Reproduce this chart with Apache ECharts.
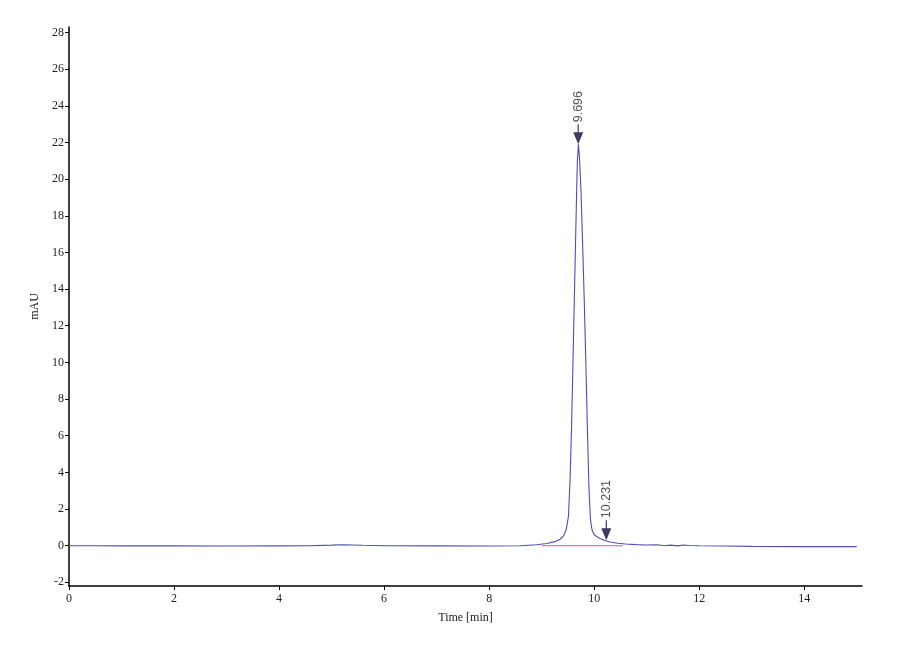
<!DOCTYPE html>
<html>
<head>
<meta charset="utf-8">
<script src="https://cdn.jsdelivr.net/npm/echarts@6/dist/echarts.min.js"></script>
<style>
  html, body { margin: 0; padding: 0; background: #fff; }
  #main { width: 900px; height: 660px; }
</style>
</head>
<body>
<div id="main"></div>
<script>
// chromatogram trace, [time (min), mAU]
var trace = [
  [0, 0], [0.5, 0], [1, -0.01], [2, -0.01], [3, -0.02], [4, -0.01], [4.6, 0],
  [5.0, 0.03], [5.2, 0.05], [5.6, 0.02], [6, 0], [7, -0.01], [8, -0.02],
  [8.6, 0], [8.9, 0.05], [9.1, 0.12], [9.25, 0.22], [9.35, 0.35], [9.42, 0.55],
  [9.47, 0.9], [9.51, 1.6], [9.54, 3.5], [9.57, 6.5], [9.6, 10.5], [9.63, 14.5],
  [9.66, 18.5], [9.68, 21], [9.7, 21.9], [9.72, 21.2], [9.75, 19.3], [9.78, 16.5],
  [9.81, 13.5], [9.84, 10.2], [9.87, 6.5], [9.9, 3.2], [9.93, 1.4], [9.96, 0.85],
  [10.0, 0.6], [10.1, 0.4], [10.2, 0.28], [10.3, 0.2], [10.45, 0.13], [10.6, 0.09],
  [10.8, 0.06], [11.0, 0.04], [11.2, 0.05], [11.35, 0.0], [11.45, 0.03],
  [11.6, -0.01], [11.7, 0.04], [11.8, 0.01], [12, 0], [12.5, -0.02], [13, -0.04],
  [14, -0.05], [15, -0.05]
];

// integration baseline under the peak
var baseline = [[9.0, 0], [10.55, 0]];

// peak marks: retention time and height
var peakTimes = [9.696, 10.231];
var peakHeights = [21.9, 0.3];

var xTicks = [0, 2, 4, 6, 8, 10, 12, 14];
var yTicks = [-2, 0, 2, 4, 6, 8, 10, 12, 14, 16, 18, 20, 22, 24, 26, 28];

var chart = echarts.init(document.getElementById('main'));

var axisFont = { fontFamily: 'Liberation Serif', fontSize: 12, color: '#222' };

chart.setOption({
  backgroundColor: '#fff',
  animation: false,
  grid: { left: 69, right: 38, top: 27, bottom: 74, containLabel: false },
  xAxis: {
    type: 'value',
    min: 0,
    max: 15.1,
    name: 'Time [min]',
    nameLocation: 'middle',
    nameGap: 26,
    nameTextStyle: axisFont,
    axisLine: { onZero: false, lineStyle: { color: '#000', width: 1.5 } },
    axisTick: { customValues: xTicks, length: 4, lineStyle: { color: '#000' } },
    axisLabel: Object.assign({ customValues: xTicks, margin: 7 }, axisFont),
    splitLine: { show: false }
  },
  yAxis: {
    type: 'value',
    min: -2.2,
    max: 28.3,
    name: 'mAU',
    nameLocation: 'middle',
    nameGap: 27,
    nameTextStyle: axisFont,
    axisLine: { show: true, onZero: false, lineStyle: { color: '#000', width: 1.5 } },
    axisTick: { show: true, customValues: yTicks, length: 4, lineStyle: { color: '#000' } },
    axisLabel: Object.assign({ customValues: yTicks, margin: 5 }, axisFont),
    splitLine: { show: false }
  },
  series: [
    {
      type: 'line',
      data: baseline,
      showSymbol: false,
      lineStyle: { color: '#ec6ccc', width: 1.2 },
      z: 2
    },
    {
      type: 'line',
      data: trace,
      showSymbol: false,
      lineStyle: { color: '#4e4eb6', width: 1.1 },
      z: 3
    },
    {
      type: 'scatter',
      data: peakTimes.map(function (t, i) { return [t, peakHeights[i]]; }),
      symbol: 'path://M4.4,-8 L5.6,-8 L5.6,0 L10,0 L5,12 L0,0 L4.4,0 Z',
      symbolSize: [10, 20],
      symbolOffset: [0, -10],
      itemStyle: { color: '#0a0a3c' },
      label: {
        show: true,
        position: 'top',
        distance: 2,
        rotate: 90,
        align: 'left',
        verticalAlign: 'middle',
        fontFamily: 'Liberation Sans',
        fontSize: 12.5,
        color: '#222',
        formatter: function (p) { return p.value[0].toFixed(3); }
      },
      z: 5
    }
  ]
});
</script>
</body>
</html>
